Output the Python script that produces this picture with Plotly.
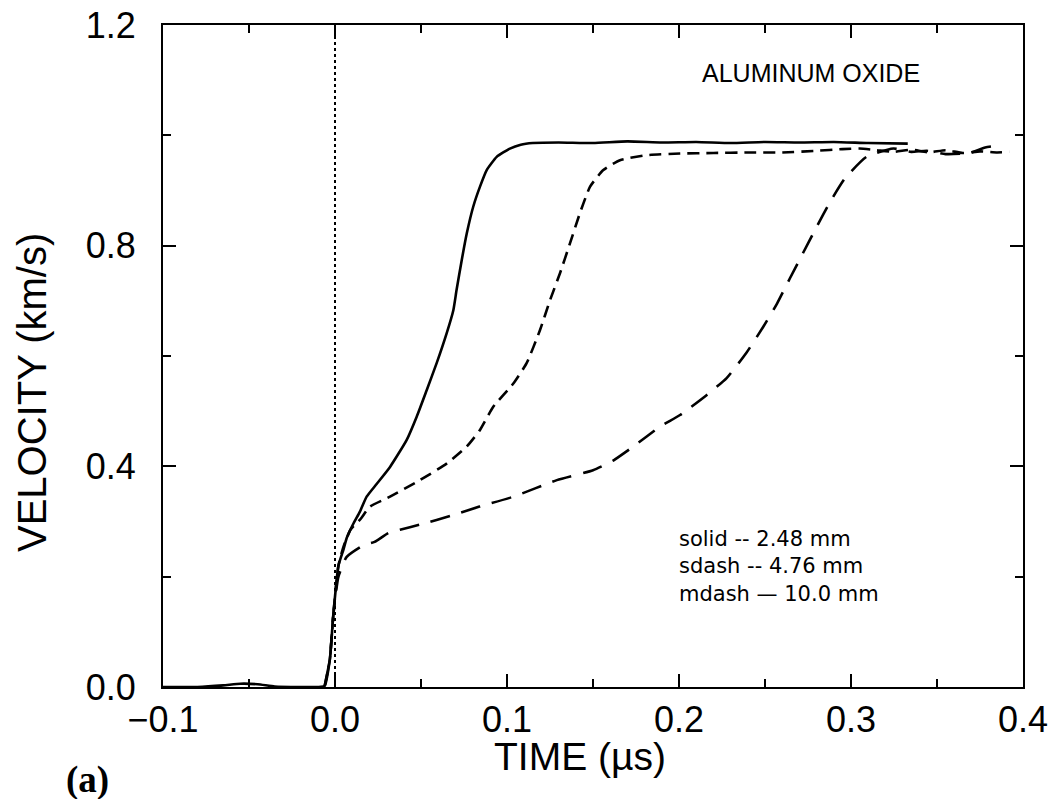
import plotly.graph_objects as go

# Free-surface velocity histories, aluminum oxide, three sample thicknesses
time_solid = [-0.1, -0.08, -0.065, -0.055, -0.045, -0.035, -0.02, -0.01, -0.006,
              -0.003, -0.001, 0.002, 0.005, 0.0068, 0.0105, 0.0145, 0.0184, 0.0242,
              0.032, 0.0417, 0.0475, 0.0533, 0.0591, 0.0649, 0.0688, 0.0707, 0.0737,
              0.0766, 0.0804, 0.0843, 0.0882, 0.094, 0.1017, 0.108, 0.115, 0.13, 0.15,
              0.17, 0.19, 0.21, 0.23, 0.25, 0.27, 0.29, 0.31, 0.333]
vel_solid = [0.0, 0.0, 0.003, 0.006, 0.005, 0.001, 0.0, 0.0, 0.002,
             0.05, 0.13, 0.22, 0.25, 0.27, 0.295, 0.318, 0.345, 0.368,
             0.399, 0.448, 0.49, 0.538, 0.587, 0.641, 0.683, 0.72, 0.774,
             0.822, 0.871, 0.907, 0.937, 0.961, 0.976, 0.983, 0.986, 0.987, 0.986,
             0.989, 0.987, 0.988, 0.986, 0.988, 0.987, 0.988, 0.986, 0.985]

time_sdash = [-0.006, -0.003, -0.001, 0.002, 0.005, 0.009, 0.015, 0.0203, 0.032,
              0.0494, 0.0649, 0.0766, 0.0843, 0.092, 0.1037, 0.1114, 0.1192, 0.125,
              0.1308, 0.1366, 0.1424, 0.1483, 0.156, 0.1657, 0.1812, 0.2006, 0.22,
              0.24, 0.26, 0.28, 0.295, 0.305, 0.315, 0.325, 0.335, 0.345, 0.355,
              0.365, 0.375, 0.385, 0.392]
vel_sdash = [0.002, 0.05, 0.13, 0.22, 0.255, 0.285, 0.305, 0.327, 0.345,
             0.375, 0.405, 0.436, 0.466, 0.508, 0.55, 0.587, 0.647, 0.701,
             0.75, 0.804, 0.859, 0.907, 0.937, 0.955, 0.964, 0.967, 0.968,
             0.969, 0.969, 0.972, 0.975, 0.976, 0.973, 0.97, 0.974, 0.969, 0.973,
             0.968, 0.971, 0.969, 0.97]

time_mdash = [-0.006, -0.003, -0.001, 0.002, 0.0068, 0.0165, 0.023, 0.031, 0.0378,
              0.049, 0.069, 0.084, 0.1037, 0.129, 0.15, 0.162, 0.1735, 0.189, 0.2006,
              0.216, 0.2277, 0.239, 0.249, 0.257, 0.2645, 0.272, 0.28, 0.288, 0.2965,
              0.309, 0.3247, 0.335, 0.344, 0.355, 0.369, 0.378, 0.3876]
vel_mdash = [0.002, 0.05, 0.13, 0.2, 0.236, 0.257, 0.263, 0.279, 0.285,
             0.294, 0.312, 0.327, 0.345, 0.375, 0.393, 0.411, 0.436, 0.472, 0.493,
             0.529, 0.56, 0.605, 0.653, 0.695, 0.741, 0.786, 0.834, 0.88, 0.922,
             0.961, 0.976, 0.97, 0.972, 0.966, 0.968, 0.978, 0.982]

# Time-zero reference marker
zero_time = [0.0, 0.0]
zero_vel = [0.0, 1.2]

x_ticks = [-0.1, 0.0, 0.1, 0.2, 0.3, 0.4]
y_ticks = [0.0, 0.4, 0.8, 1.2]

legend_lines = ["solid -- 2.48 mm", "sdash -- 4.76 mm", "mdash \u2014 10.0 mm"]

LINE_W = 2.6
SANS = "Liberation Sans, Arial, sans-serif"

fig = go.Figure()
fig.add_trace(go.Scatter(x=zero_time, y=zero_vel, mode="lines",
                         line=dict(color="black", width=2, dash="dot"), hoverinfo="skip"))
fig.add_trace(go.Scatter(x=time_mdash, y=vel_mdash, mode="lines",
                         line=dict(color="black", width=LINE_W, dash="20px,12px",
                                   shape="spline", smoothing=0.5)))
fig.add_trace(go.Scatter(x=time_sdash, y=vel_sdash, mode="lines",
                         line=dict(color="black", width=LINE_W, dash="12px,7px",
                                   shape="spline", smoothing=0.5)))
fig.add_trace(go.Scatter(x=time_solid, y=vel_solid, mode="lines",
                         line=dict(color="black", width=LINE_W,
                                   shape="spline", smoothing=0.5)))

tick_font = dict(family=SANS, size=36, color="black")
axis_common = dict(showline=True, linecolor="black", linewidth=2, mirror="ticks",
                   ticks="inside", ticklen=13, tickwidth=2, tickcolor="black",
                   showgrid=False, zeroline=False, tickfont=tick_font,
                   tickformat=".1f", automargin=False)

fig.update_xaxes(range=[-0.1, 0.4], tickvals=x_ticks, ticklabelstandoff=0,
                 minor=dict(ticks="inside", ticklen=8, tickwidth=2, tickcolor="black",
                            dtick=0.05, showgrid=False),
                 **axis_common)
fig.update_yaxes(range=[0.0, 1.2], tickvals=y_ticks, ticklabelstandoff=18,
                 minor=dict(ticks="inside", ticklen=8, tickwidth=2, tickcolor="black",
                            dtick=0.2, showgrid=False),
                 **axis_common)

# Page geometry, used to place the free-standing texts in pixel terms
W, H = 1049, 799
ML, MR, MT, MB = 163, 26, 25, 112
pw, ph = W - ML - MR, H - MT - MB


def px(xp):
    return (xp - ML) / pw


def py(yp):
    return (H - MB - yp) / ph


def label(text, x, y, size, family=SANS, xanchor="center", angle=0):
    fig.add_annotation(text=text, xref="paper", yref="paper", x=px(x), y=py(y),
                       xanchor=xanchor, yanchor="middle", showarrow=False,
                       textangle=angle, align="left",
                       font=dict(family=family, size=size, color="black"))


label("VELOCITY (km/s)", 32, 393, 40, angle=-90)
label("TIME (\u00b5s)", 580, 756, 39)
label("<b>(a)</b>", 87, 780, 37, family="Liberation Serif, Times New Roman, serif")
label("ALUMINUM OXIDE", 700, 73, 25, xanchor="left")
label("<br>".join(legend_lines), 677, 566, 21, family="DejaVu Sans, sans-serif",
      xanchor="left")

fig.update_layout(width=W, height=H, margin=dict(l=ML, r=MR, t=MT, b=MB),
                  paper_bgcolor="white", plot_bgcolor="white", showlegend=False)

fig.write_html("out.html")
